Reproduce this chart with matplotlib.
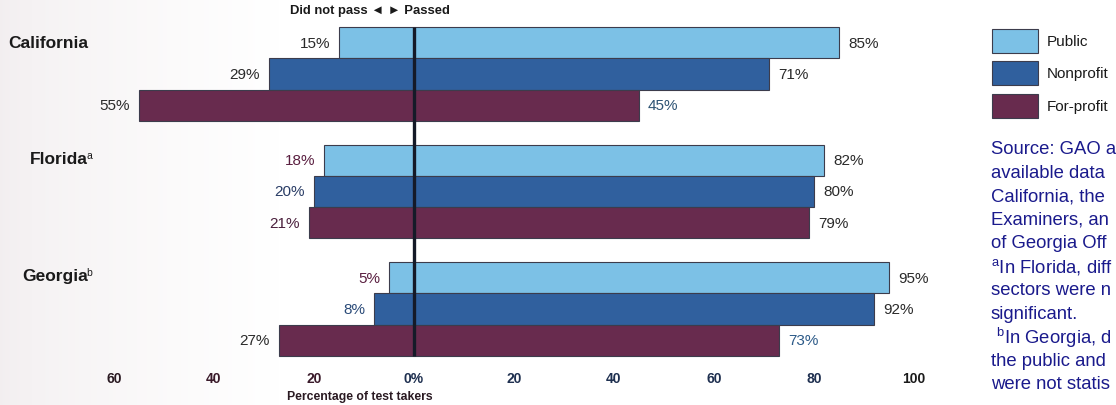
import matplotlib
matplotlib.use("Agg")
import matplotlib.pyplot as plt
from matplotlib.patches import Rectangle
import numpy as np

plt.rcParams['font.family'] = ['Liberation Sans', 'DejaVu Sans']
plt.rcParams['mathtext.fontset'] = 'custom'
plt.rcParams['mathtext.rm'] = 'Liberation Sans'

# ---- data ----
states = ["California", "Florida", "Georgia"]
state_notes = ["", "a", "b"]
sectors = ["Public", "Nonprofit", "For-profit"]
passed = {
    "Public": [85, 82, 95],
    "Nonprofit": [71, 80, 92],
    "For-profit": [45, 79, 73],
}
did_not_pass = {
    "Public": [15, 18, 5],
    "Nonprofit": [29, 20, 8],
    "For-profit": [55, 21, 27],
}
tick_values = [-60, -40, -20, 0, 20, 40, 60, 80, 100]
tick_labels = ["60", "40", "20", "0%", "20", "40", "60", "80", "100"]
# the note panel is cropped at the right edge in the reference
source_lines = [
    "Source: GAO a",
    "available data",
    "California, the",
    "Examiners, an",
    "of Georgia Off",
    "$^{\\mathregular{a}}$In Florida, diff",
    "sectors were n",
    "significant.",
    " $^{\\mathregular{b}}$In Georgia, d",
    "the public and",
    "were not statis",
]

# ---- styles ----
colors = {"Public": "#7cc1e6", "Nonprofit": "#30609e", "For-profit": "#682b4e"}
left_label_colors = [
    ["#2a2a2a", "#2a2a2a", "#2a2a2a"],
    ["#5a1f40", "#2a3d66", "#4a1f3c"],
    ["#5a1f40", "#2a4a78", "#2a2a2a"],
]
right_label_colors = [
    ["#2a2a2a", "#2a2a2a", "#2c5273"],
    ["#2a2a2a", "#2a2a2a", "#2a2a2a"],
    ["#2a2a2a", "#2a2a2a", "#2c5a88"],
]

W, H = 1116, 406
fig = plt.figure(figsize=(W / 100, H / 100), dpi=100)
fig.patch.set_facecolor("white")

# faint slide background gradient at left
bg = fig.add_axes([0, 0, 1, 1], zorder=-10)
n = 300
fade = np.linspace(0, 1, n) ** 0.7
base = np.array([0.95, 0.935, 0.94])
grad = base[None, None, :] * (1 - fade)[None, :, None] + fade[None, :, None]
grad = np.repeat(grad, 10, axis=0)
bg.imshow(grad, extent=[0, 0.25, 0, 1], aspect="auto", transform=bg.transAxes)
bg.set_xlim(0, 1); bg.set_ylim(0, 1)
bg.axis("off")

def fx(px):
    return px / W

def fy(py):
    return 1 - py / H

ax = fig.add_axes([fx(114), fy(362), fx(914) - fx(114), fy(20) - fy(362)])
ax.set_xlim(-60, 100)
ax.set_ylim(362, 20)
ax.patch.set_alpha(0)
for s in ax.spines.values():
    s.set_visible(False)

group_start = 28
group_step = 117.5
bar_h = 31.3
for i, st in enumerate(states):
    for j, sec in enumerate(sectors):
        yc = group_start + i * group_step + bar_h * (j + 0.5)
        p = passed[sec][i]
        q = did_not_pass[sec][i]
        ax.barh(yc, p, left=0, height=bar_h, color=colors[sec],
                edgecolor="#3c3c4c", linewidth=0.8, zorder=2)
        ax.barh(yc, -q, left=0, height=bar_h, color=colors[sec],
                edgecolor="#3c3c4c", linewidth=0.8, zorder=2)
        ax.text(p + 1.8, yc, f"{p}%", ha="left", va="center", fontsize=11,
                color=right_label_colors[i][j])
        ax.text(-q - 1.8, yc, f"{q}%", ha="right", va="center", fontsize=11,
                color=left_label_colors[i][j])

ax.plot([0, 0], [28, 357], color="#151a28", linewidth=2.4, zorder=5,
        solid_capstyle="butt")

ax.set_yticks([])
ax.set_xticks(tick_values)
ax.set_xticklabels(tick_labels, fontsize=10, fontweight="bold")
tick_cols = ["#2a1a22", "#3a1a2a", "#3a1a2a", "#1f3050", "#1f3050",
             "#1f3050", "#1f3050", "#1f3050", "#1a1a1a"]
for lab, c in zip(ax.get_xticklabels(), tick_cols):
    lab.set_color(c)
ax.tick_params(axis="x", length=0, pad=7)

fig.text(fx(360), fy(397), "Percentage of test takers", ha="center",
         va="center", fontsize=8.8, fontweight="bold", color="#2a1a22")
fig.text(fx(370), fy(11), "Did not pass \u25c4 \u25ba Passed", ha="center",
         va="center", fontsize=9.4, fontweight="bold", color="#1a1a1a",
         family=["Liberation Sans", "DejaVu Sans"])

state_x = [8, 30, 22]
state_y = [43, 160, 277]
fig.canvas.draw()
for st, note, sx, sy in zip(states, state_notes, state_x, state_y):
    t = fig.text(fx(sx), fy(sy), st, ha="left", va="center", fontsize=12.5,
                 fontweight="bold", color="#1a1a1a")
    if note:
        bb = t.get_window_extent(renderer=fig.canvas.get_renderer())
        fig.text((bb.x1 - 1) / W, fy(sy - 4), note, ha="left", va="center",
                 fontsize=7.5, color="#1a1a1a")

# legend
leg_y = [30, 62, 95]
for sec, ly in zip(sectors, leg_y):
    fig.patches.append(Rectangle((fx(992), fy(ly + 24)), fx(46), 24 / H,
                                 transform=fig.transFigure,
                                 facecolor=colors[sec], edgecolor="#3c3c4c",
                                 linewidth=0.8))
    fig.text(fx(1047), fy(ly + 12), sec, ha="left", va="center",
             fontsize=11, color="#1a1a1a")

for k, line in enumerate(source_lines):
    fig.text(fx(991), fy(150 + k * 23.5), line, ha="left", va="center",
             fontsize=13.3, color="#1a1a8c")

fig.savefig("out.png", dpi=100)
